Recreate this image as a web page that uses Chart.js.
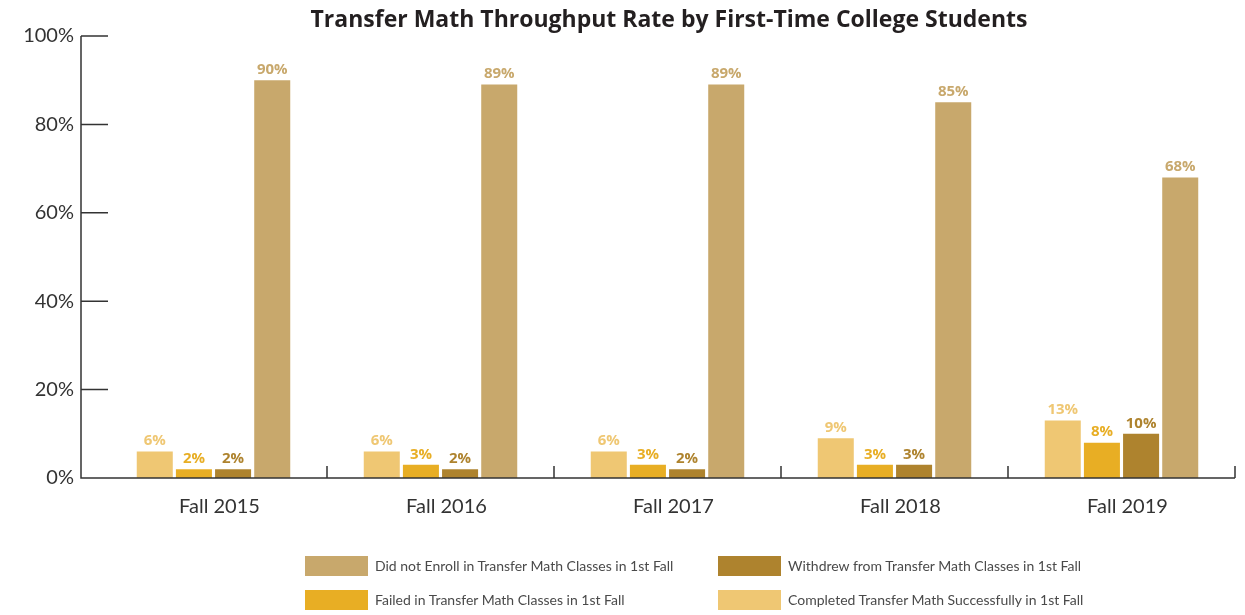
<!DOCTYPE html>
<html>
<head>
<meta charset="utf-8">
<script src="https://cdn.jsdelivr.net/npm/chart.js@4/dist/chart.umd.min.js"></script>
<style>
  body { margin: 0; background: #fff; }
  #wrap { position: relative; width: 1245px; height: 615px; }
  #title {
    position: absolute; left: 0; top: 2px; width: 1338px; text-align: center;
    font: bold 23px "Open Sans", sans-serif; color: #231f20;
  }
  .leg { position: absolute; font: 14px Lato, sans-serif; color: #4a4a4a; }
  .leg span { position: absolute; width: 63px; height: 20px; left: 0; top: 0; }
  .leg div { position: absolute; left: 70px; top: 1px; white-space: nowrap; }
</style>
</head>
<body>
<div id="wrap">
  <canvas id="chart" width="1245" height="615"></canvas>
  <div id="title">Transfer Math Throughput Rate by First-Time College Students</div>
  <div id="legend"></div>
</div>
<script>
// data
const years = ["Fall 2015", "Fall 2016", "Fall 2017", "Fall 2018", "Fall 2019"];
const completed = [6, 6, 6, 9, 13];
const failed = [2, 3, 3, 3, 8];
const withdrew = [2, 2, 2, 3, 10];
const notEnrolled = [90, 89, 89, 85, 68];
const yTicks = [0, 20, 40, 60, 80, 100];

const colors = {
    completed: "#efc773",
    failed: "#e8ae24",
    withdrew: "#ae832e",
    notEnrolled: "#c8a86c"
};

const labels = {
    completed: "Completed Transfer Math Successfully in 1st Fall",
    failed: "Failed in Transfer Math Classes in 1st Fall",
    withdrew: "Withdrew from Transfer Math Classes in 1st Fall",
    notEnrolled: "Did not Enroll in Transfer Math Classes in 1st Fall"
};

// legend layout: [key, left, top]
const legendSpots = [
    ["notEnrolled", 305, 556],
    ["withdrew", 718, 556],
    ["failed", 305, 590],
    ["completed", 718, 590]
];

let legendHtml = "";
for (const [key, x, y] of legendSpots) {
    legendHtml += `<div class="leg" style="left:${x}px; top:${y}px;">
        <span style="background:${colors[key]}"></span><div>${labels[key]}</div></div>`;
}
document.getElementById("legend").innerHTML = legendHtml;

const axisPlugin = {
    id: "axisLines",
    afterDraw(chart) {
        const ctx = chart.ctx;
        const xs = chart.scales.x, ys = chart.scales.y;
        const area = chart.chartArea;
        const axisX = area.left - 19;
        const y0 = ys.getPixelForValue(0);
        ctx.save();
        ctx.strokeStyle = "#333";
        ctx.lineWidth = 1.5;
        ctx.beginPath();
        ctx.moveTo(axisX, ys.getPixelForValue(100));
        ctx.lineTo(axisX, y0);
        ctx.lineTo(area.right, y0);
        for (const t of yTicks) {
            if (t === 0) continue;
            const py = ys.getPixelForValue(t);
            ctx.moveTo(axisX, py);
            ctx.lineTo(axisX + 27, py);
        }
        for (let i = 1; i <= years.length; i++) {
            const px = i < years.length
                ? (xs.getPixelForValue(i - 1) + xs.getPixelForValue(i)) / 2
                : area.right;
            ctx.moveTo(px, y0);
            ctx.lineTo(px, y0 - 12);
        }
        ctx.stroke();
        ctx.restore();
    }
};

const valueLabels = {
    id: "valueLabels",
    afterDatasetsDraw(chart) {
        const ctx = chart.ctx;
        ctx.save();
        ctx.font = "bold 15px 'Open Sans', sans-serif";
        ctx.textAlign = "center";
        ctx.textBaseline = "bottom";
        chart.data.datasets.forEach((ds, i) => {
            const meta = chart.getDatasetMeta(i);
            ctx.fillStyle = ds.backgroundColor;
            meta.data.forEach((bar, j) => {
                ctx.fillText(ds.data[j] + "%", bar.x, bar.y - 3);
            });
        });
        ctx.restore();
    }
};

const ctx = document.getElementById("chart").getContext("2d");
new Chart(ctx, {
    type: "bar",
    data: {
        labels: years,
        datasets: [
            { label: labels.completed, data: completed, backgroundColor: colors.completed },
            { label: labels.failed, data: failed, backgroundColor: colors.failed },
            { label: labels.withdrew, data: withdrew, backgroundColor: colors.withdrew },
            { label: labels.notEnrolled, data: notEnrolled, backgroundColor: colors.notEnrolled }
        ]
    },
    options: {
        responsive: false,
        animation: false,
        categoryPercentage: 0.69,
        barPercentage: 0.92,
        layout: { padding: { top: 36, right: 10, bottom: 87, left: 0 } },
        plugins: {
            legend: { display: false },
            tooltip: { enabled: false }
        },
        scales: {
            x: {
                grid: { display: false },
                border: { display: false },
                ticks: { color: "#333", font: { family: "Lato", size: 20 }, padding: 9, labelOffset: 6 },
                afterFit(scale) {
                    scale.height = 50;
                    scale.paddingLeft = 0;
                    scale.paddingRight = 0;
                }
            },
            y: {
                min: 0,
                max: 100,
                grid: { display: false },
                border: { display: false },
                ticks: {
                    stepSize: 20,
                    color: "#333",
                    padding: 18,
                    font: { family: "Lato", size: 20 },
                    callback: v => v + "%"
                },
                afterFit(scale) {
                    scale.width = 100;
                    scale.paddingTop = 0;
                    scale.paddingBottom = 0;
                }
            }
        }
    },
    plugins: [axisPlugin, valueLabels]
});
</script>
</body>
</html>
